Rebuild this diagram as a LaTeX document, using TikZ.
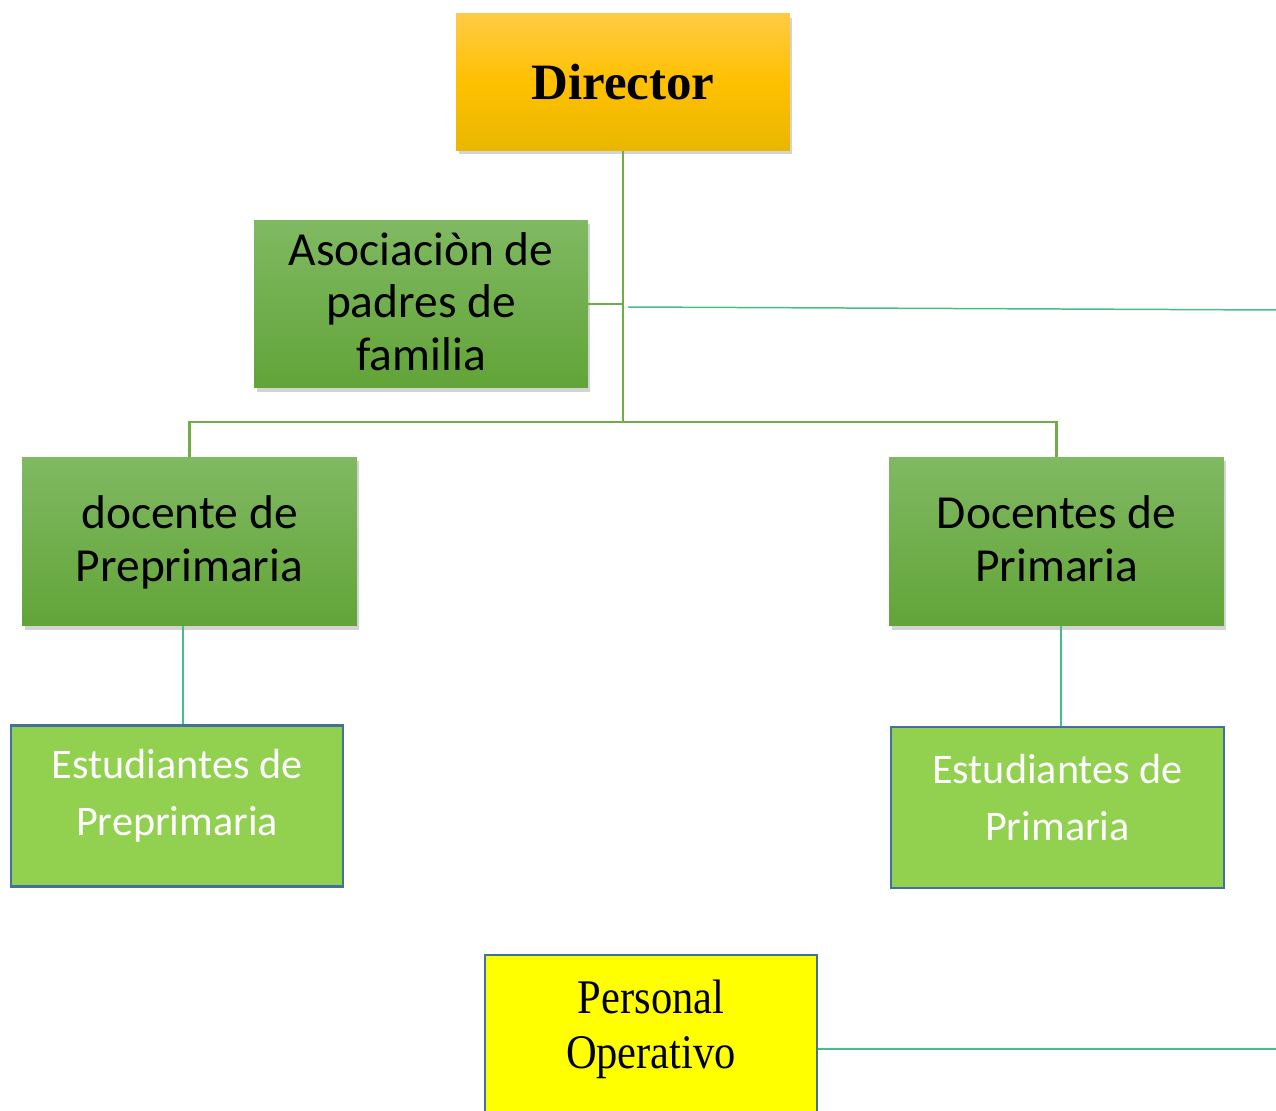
\documentclass[tikz,border=0pt]{standalone}
\usepackage{fontspec}
\setmainfont{Liberation Serif}
\newfontfamily\carlito{Carlito}
\newfontfamily\narrowserif[FakeStretch=0.88]{Liberation Serif}
\usetikzlibrary{shadows}
\definecolor{dirtop}{HTML}{FFCB45}
\definecolor{dirmid}{HTML}{FFC000}
\definecolor{dirbot}{HTML}{E8B700}
\definecolor{grtop}{HTML}{80B962}
\definecolor{grbot}{HTML}{62A438}
\definecolor{linegreen}{HTML}{70AD47}
\definecolor{tealgreen}{HTML}{45BF85}
\definecolor{studgreen}{HTML}{92D050}
\definecolor{edgeblue}{HTML}{41719C}
\definecolor{opyellow}{HTML}{FFFF00}
\begin{document}
\begin{tikzpicture}[x=0.02cm,y=-0.02cm]
% organigrama: positions in pixels of the original chart
\tikzstyle{goldbox} = [rectangle, minimum width=6.68cm, minimum height=2.74cm, top color=dirtop, bottom color=dirbot, middle color=dirmid, drop shadow={shadow xshift=0.05cm, shadow yshift=-0.08cm, opacity=0.35}, font=\fontsize{29}{34}\selectfont\bfseries]
\tikzstyle{greenbox} = [rectangle, minimum width=6.7cm, minimum height=3.38cm, top color=grtop, bottom color=grbot, drop shadow={shadow xshift=0.05cm, shadow yshift=-0.08cm, opacity=0.35}, align=center, text depth=3pt, font=\carlito\fontsize{27}{30}\selectfont]
\tikzstyle{studbox} = [rectangle, draw=edgeblue, line width=1.3pt, fill=studgreen, minimum width=6.64cm, minimum height=3.22cm]
\tikzstyle{studtext} = [text=white, align=center, font=\carlito\fontsize{24}{32.4}\selectfont, yshift=0.2cm]
\tikzstyle{trunk} = [draw=linegreen, line width=1.7pt]
\tikzstyle{thinlink} = [draw=tealgreen, line width=0.85pt]
\clip (0,0) rectangle (1276,1111);
\node (Dir)[goldbox] at (623,82) {Director};
\node (APF)[greenbox, minimum width=6.68cm, minimum height=3.36cm] at (421,304) {Asociaciòn de\\padres de\\familia};
\node (DPre)[greenbox] at (189.5,541.5) {docente de\\Preprimaria};
\node (DPri)[greenbox] at (1056.5,541.5) {Docentes de\\Primaria};
\node (EPre)[studbox, label={[studtext]center:{Estudiantes de\\Preprimaria}}] at (177,806) {};
\node (EPri)[studbox, minimum width=6.66cm, label={[studtext]center:{Estudiantes de\\Primaria}}] at (1057.5,807.5) {};
\node (PO)[studbox, fill=opyellow, minimum height=3.76cm, label={[align=center, font=\narrowserif\fontsize{27.5}{31.2}\selectfont, yshift=0.4cm]center:{Personal\\Operativo}}] at (651,1049) {};
\coordinate (hub) at (623,422);
\coordinate (gapA) at (628,307);
\coordinate (endA) at (1276,310);
\coordinate (endB) at (1276,1049);
\draw [trunk] (Dir.south) -- (hub);
\draw [trunk] (DPre.north) |- (hub) -| (DPri.north);
\draw [trunk] (APF.east) -- (APF.east -| hub);
\draw [thinlink] (gapA) -- (endA);
\draw [thinlink] ([xshift=-0.13cm]DPre.south) -- ([xshift=-0.13cm]DPre.south |- EPre.north);
\draw [thinlink] ([xshift=0.09cm]DPri.south) -- ([xshift=0.09cm]DPri.south |- EPri.north);
\draw [thinlink, line width=1.1pt] (PO.east) -- (endB);
\end{tikzpicture}
\end{document}
